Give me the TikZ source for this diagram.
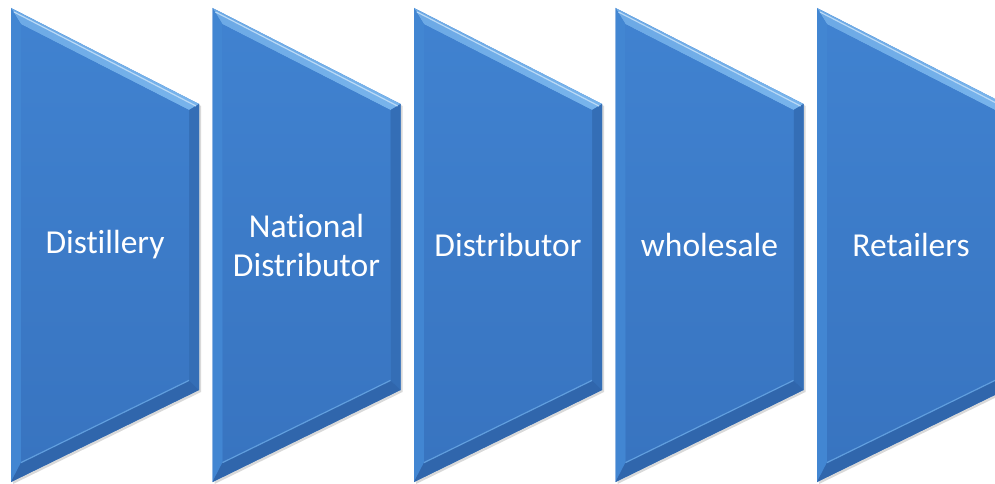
\documentclass[tikz,border=0pt]{standalone}
\usepackage{fontspec}
\setmainfont{Carlito}[Ligatures=NoCommon]
\usetikzlibrary{shadows}

\definecolor{stepblue}{RGB}{61,125,202}
\definecolor{steptop}{RGB}{64,130,208}
\definecolor{stepbottom}{RGB}{56,116,192}
\definecolor{bevellight}{RGB}{120,180,236}
\definecolor{bevelside}{RGB}{66,134,210}
\definecolor{bevelright}{RGB}{52,110,182}
\definecolor{beveldark}{RGB}{48,102,172}

\tikzset{
  stage/.style={fill=stepblue,
    drop shadow={opacity=0.3,shadow xshift=2pt,shadow yshift=-2pt}},
  stagetext/.style={text=white, align=center,
    font=\fontsize{33.5}{39}\selectfont}
}

\begin{document}
\begin{tikzpicture}[x=1pt,y=-1pt]
\useasboundingbox (0,0) rectangle (995,484);
\foreach \name/\txt [count=\i from 0] in {distillery/Distillery,
    national/{National\\Distributor}, distributor/Distributor,
    wholesale/wholesale, retailers/Retailers}
{
  \pgfmathsetmacro\xa{11+201.5*\i}
  \pgfmathsetmacro\xb{\xa+188}
  % outer outline
  \path[stage] (\xa,8) -- (\xb,104) -- (\xb,390) -- (\xa,482) -- cycle;
  % bevel facets
  \shade[left color=bevellight!80!stepblue, right color=bevellight]
    (\xa,8) -- (\xb,104) -- ({\xb-10},110.1) -- ({\xa+10},24.3) -- cycle;
  \fill[bevelside] (\xa,8) -- ({\xa+10},24.3) -- ({\xa+10},462.6) -- (\xa,482) -- cycle;
  \fill[bevelright] (\xb,104) -- (\xb,390) -- ({\xb-10},380.4) -- ({\xb-10},110.1) -- cycle;
  \fill[beveldark] (\xa,482) -- ({\xa+10},462.6) -- ({\xb-10},380.4) -- (\xb,390) -- cycle;
  % face
  \shade[top color=steptop, bottom color=stepbottom]
    ({\xa+10},24.3) -- ({\xb-10},110.1) -- ({\xb-10},380.4) -- ({\xa+10},462.6) -- cycle;
  \draw[bevellight!60!stepblue, line width=1.2pt] ({\xa+10},462.6) -- ({\xb-10},380.4);
  \draw[white!50!bevellight, line width=1.2pt] ({\xa+3},12) -- ({\xb-3},106);
  \node[stagetext] (\name) at ({\xa+94},245) {\txt};
}
\end{tikzpicture}
\end{document}
